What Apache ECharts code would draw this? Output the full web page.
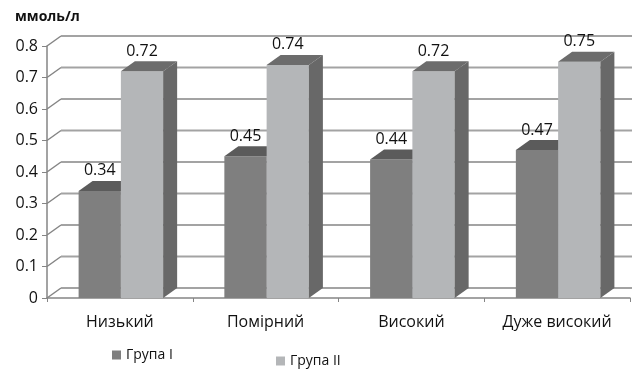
<!DOCTYPE html>
<html>
<head>
<meta charset="utf-8">
<script src="https://cdn.jsdelivr.net/npm/echarts@6/dist/echarts.min.js"></script>
<style>
  html, body { margin: 0; padding: 0; background: #fff; }
  #chart { width: 632px; height: 374px; }
</style>
</head>
<body>
<div id="chart"></div>
<script>
// Risk levels on the category axis
const categories = ['Низький', 'Помірний', 'Високий', 'Дуже високий'];
// Mean values, mmol/l
const group1 = [0.34, 0.45, 0.44, 0.47];
const group2 = [0.72, 0.74, 0.72, 0.75];
const seriesNames = ['Група I', 'Група II'];
// Value axis ticks
const yTicks = [0, 0.1, 0.2, 0.3, 0.4, 0.5, 0.6, 0.7, 0.8];
const yTickLabels = ['0', '0.1', '0.2', '0.3', '0.4', '0.5', '0.6', '0.7', '0.8'];

const FONT = 'Open Sans';
const TEXT = '#111111';
const DEPTH_X = 14, DEPTH_Y = -10;   // pseudo-3D depth offset
const BAR_FRACTION = 0.29;           // bar width as share of a category band

// Face colours per series: front, top, side
const faces = [
  { front: '#7f7f7f', top: '#5b5b5b', side: '#575757' },
  { front: '#b4b6b8', top: '#6c6c6c', side: '#686868' }
];

const chart = echarts.init(document.getElementById('chart'), null, { renderer: 'canvas' });

// Back wall: diagonal from each axis tick plus a horizontal gridline
function renderWall(params, api) {
  const cs = params.coordSys;
  const y = api.coord([0, api.value(0)])[1];
  const x0 = cs.x;
  return {
    type: 'group',
    children: [
      { type: 'line', shape: { x1: x0, y1: y, x2: x0 + DEPTH_X, y2: y + DEPTH_Y }, style: { stroke: '#858585', lineWidth: 1.5 } },
      { type: 'line', shape: { x1: x0 + DEPTH_X, y1: y + DEPTH_Y, x2: 640, y2: y + DEPTH_Y }, style: { stroke: '#a3a3a3', lineWidth: 1.8 } }
    ]
  };
}

// Box-shaped bar with front, top and right faces and a value label
function makeBarRenderer(idx) {
  return function (params, api) {
    const cat = api.value(0);
    const val = api.value(1);
    const top = api.coord([cat, val]);
    const base = api.coord([cat, 0]);
    const band = api.size([1, 0])[0];
    const w = band * BAR_FRACTION;
    const x0 = idx === 0 ? top[0] - w + 1 : top[0] + 1;
    const x1 = x0 + w;
    const yt = top[1], yb = base[1];
    const c = faces[idx];
    return {
      type: 'group',
      children: [
        { type: 'rect', shape: { x: x0, y: yt, width: w, height: yb - yt }, style: { fill: c.front } },
        { type: 'polygon', shape: { points: [[x0, yt], [x1, yt], [x1 + DEPTH_X, yt + DEPTH_Y], [x0 + DEPTH_X, yt + DEPTH_Y]] }, style: { fill: c.top } },
        { type: 'polygon', shape: { points: [[x1, yt], [x1 + DEPTH_X, yt + DEPTH_Y], [x1 + DEPTH_X, yb + DEPTH_Y], [x1, yb]] }, style: { fill: c.side } },
        {
          type: 'text',
          style: {
            text: val.toFixed(2),
            x: x0 + w / 2,
            y: yt + DEPTH_Y - 10,
            align: 'center',
            verticalAlign: 'middle',
            fill: TEXT,
            font: '16px "' + FONT + '"'
          }
        }
      ]
    };
  };
}

const option = {
  animation: false,
  backgroundColor: '#ffffff',
  textStyle: { fontFamily: FONT },
  title: {
    text: 'ммоль/л',
    left: 10,
    top: 5,
    textStyle: { fontFamily: FONT, fontSize: 14, fontWeight: 'bold', color: TEXT }
  },
  grid: { left: 47, right: 2, top: 46, bottom: 76, containLabel: false },
  legend: [
    {
      data: [seriesNames[0]], left: 107, top: 343, icon: 'rect', itemWidth: 9, itemHeight: 9, itemGap: 4,
      textStyle: { fontFamily: FONT, fontSize: 14, color: TEXT }
    },
    {
      data: [seriesNames[1]], left: 271, top: 349, icon: 'rect', itemWidth: 9, itemHeight: 9, itemGap: 4,
      textStyle: { fontFamily: FONT, fontSize: 14, color: TEXT }
    }
  ],
  xAxis: {
    type: 'category',
    data: categories,
    axisLine: { show: true, lineStyle: { color: '#858585', width: 1.5 } },
    axisTick: { show: true, length: 4, lineStyle: { color: '#858585' } },
    axisLabel: { fontFamily: FONT, fontSize: 16, color: TEXT, margin: 16 },
    splitLine: { show: false }
  },
  yAxis: {
    type: 'value',
    min: 0,
    max: 0.8,
    interval: 0.1,
    axisLine: { show: true, lineStyle: { color: '#858585', width: 1.5 } },
    axisTick: { show: true, length: 5, lineStyle: { color: '#858585' } },
    axisLabel: {
      fontFamily: FONT, fontSize: 16, color: TEXT, margin: 9,
      formatter: function (v) {
        const i = yTicks.findIndex(t => Math.abs(t - v) < 1e-9);
        return i >= 0 ? yTickLabels[i] : '';
      }
    },
    splitLine: { show: false }
  },
  series: [
    {
      type: 'custom',
      name: 'wall',
      silent: true,
      clip: false,
      z: 1,
      data: yTicks,
      encode: { y: 0 },
      renderItem: renderWall
    },
    {
      type: 'custom',
      name: seriesNames[0],
      clip: false,
      z: 2,
      itemStyle: { color: faces[0].front },
      data: group1.map((v, i) => [i, v]),
      encode: { x: 0, y: 1 },
      renderItem: makeBarRenderer(0)
    },
    {
      type: 'custom',
      name: seriesNames[1],
      clip: false,
      z: 3,
      itemStyle: { color: faces[1].front },
      data: group2.map((v, i) => [i, v]),
      encode: { x: 0, y: 1 },
      renderItem: makeBarRenderer(1)
    }
  ]
};

chart.setOption(option);
</script>
</body>
</html>
